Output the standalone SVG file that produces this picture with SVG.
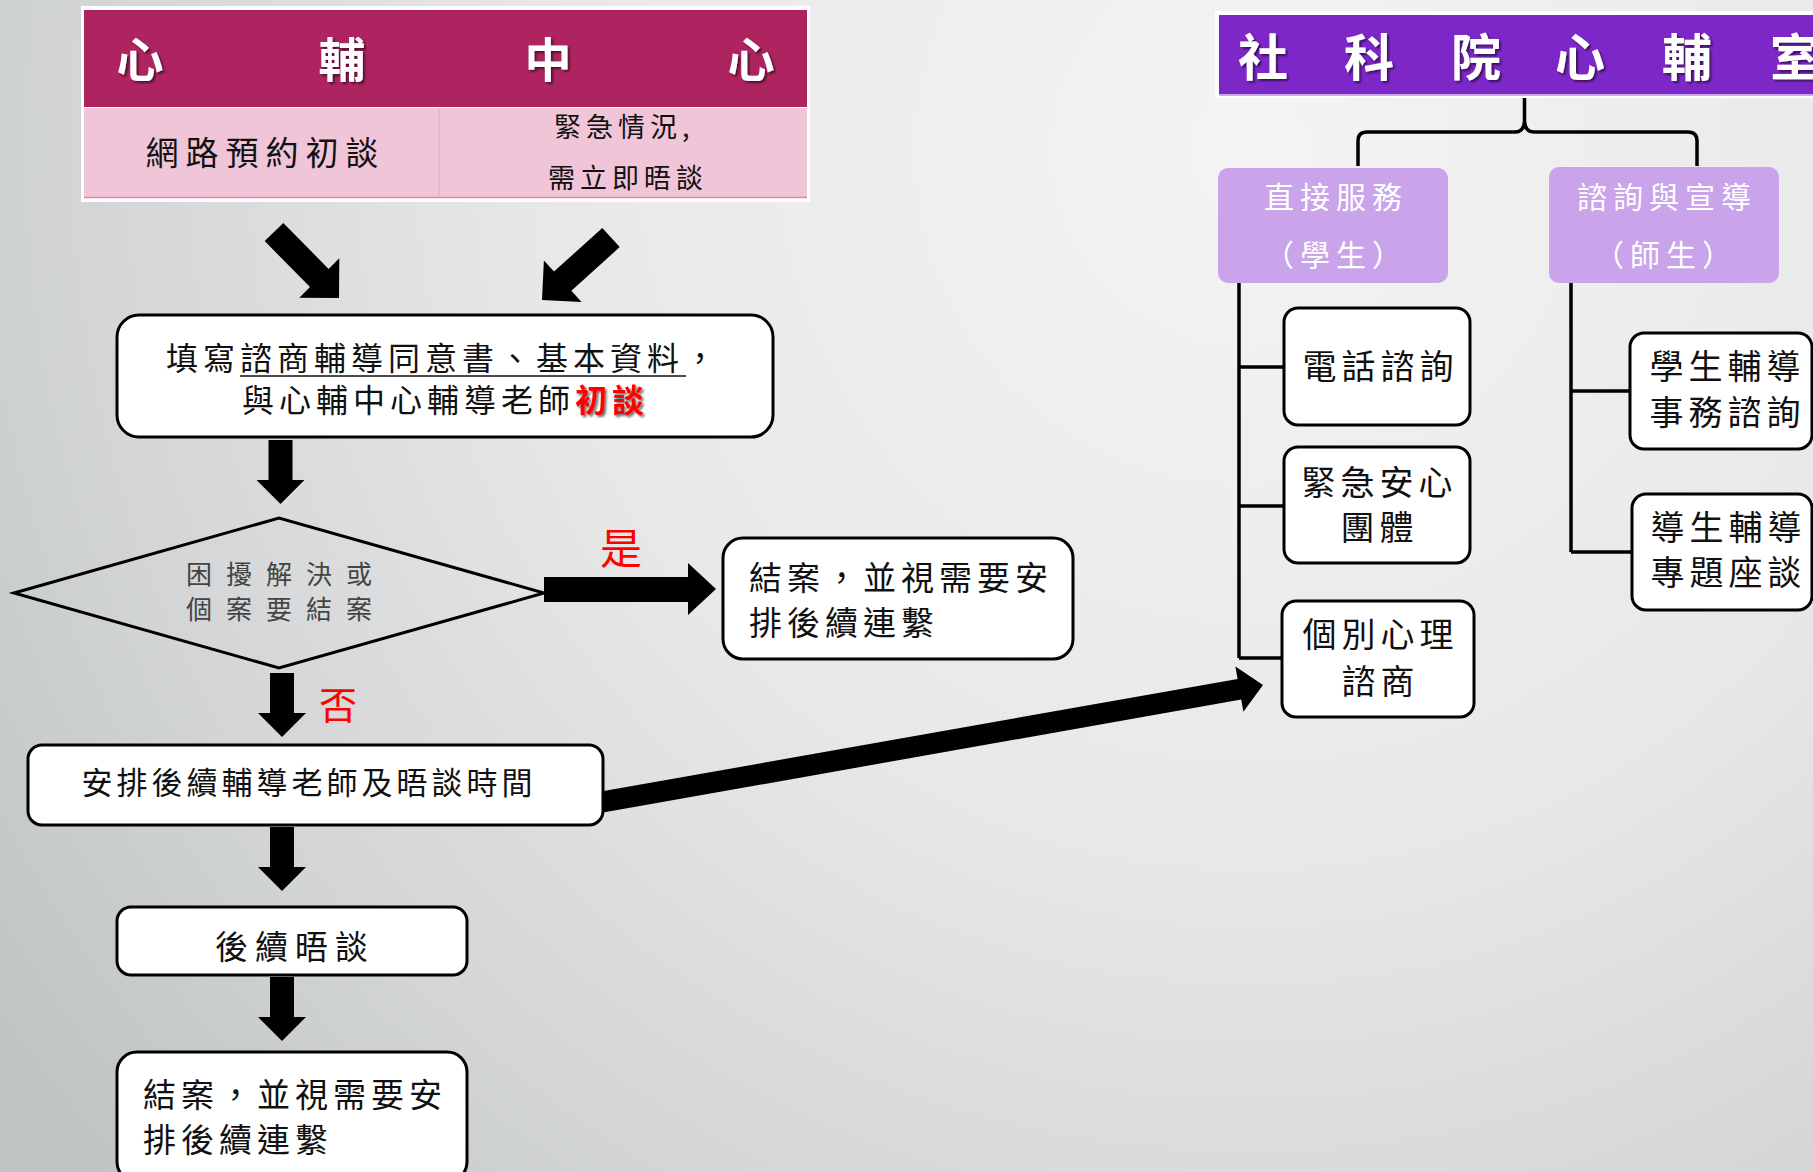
<svg xmlns="http://www.w3.org/2000/svg" width="1813" height="1172" viewBox="0 0 1813 1172">
<defs>
  <radialGradient id="bg" gradientUnits="userSpaceOnUse" cx="1250" cy="150" r="1550">
    <stop offset="0" stop-color="#f4f4f4"/>
    <stop offset="0.45" stop-color="#e8e8e8"/>
    <stop offset="0.75" stop-color="#d3d5d6"/>
    <stop offset="1" stop-color="#bfc3c4"/>
  </radialGradient>
  <filter id="sh" x="-20%" y="-20%" width="140%" height="140%">
    <feDropShadow dx="2" dy="2" stdDeviation="1.2" flood-color="#000" flood-opacity="0.55"/>
  </filter>
  <path id="down" d="M-12,0 H12 V40 H24 L0,64 L-24,40 H-12 Z"/>
</defs>
<style>
  text { font-family: "Noto Sans CJK TC", "Noto Sans CJK SC", sans-serif; }
  .box { fill: #ffffff; stroke: #000; stroke-width: 3; }
  .t { fill: #111; }
  .hdr { fill: #ffffff; font-weight: 700; filter: url(#sh); }
  .lav { fill: #c9a4ea; }
  .lavt { fill: #ffffff; font-size: 30px; letter-spacing: 6px; text-anchor: middle; }
  .arrow { fill: #000; }
  .tree { fill: none; stroke: #000; stroke-width: 3.5; }
  .red { fill: #ff0000; }
  .tb { font-size: 34px; letter-spacing: 5px; text-anchor: middle; }
</style>

<rect x="0" y="0" width="1813" height="1172" fill="url(#bg)"/>

<!-- connectors -->
<g id="connectors">
  <polygon class="arrow" points="264.7,241.1 283.3,222.9 328.6,268.9 339.3,258.3 339,298 299.3,297.7 310,287.1"/>
  <polygon class="arrow" points="602.3,227.9 619.7,247.1 571.4,290.8 581.5,301.9 542,300 543.9,260.5 554,271.6"/>
  <use href="#down" x="280.5" y="440"/>
  <polygon class="arrow" points="544,577 688,577 688,563 716,589 688,615 688,602 544,602"/>
  <use href="#down" x="282" y="673"/>
  <use href="#down" x="282" y="827"/>
  <use href="#down" x="282" y="977"/>
  <polygon class="arrow" points="598,792 1237.6,678.9 1235.4,666.6 1263,685 1243.4,711.8 1241.2,699.5 601.6,812.8"/>
  <path class="tree" d="M1358,166 L1358,141 Q1358,132 1367,132 L1515,132 Q1524,132 1524.5,121 L1524.5,96 M1524.5,121 Q1525,132 1534,132 L1688,132 Q1697,132 1697,141 L1697,166"/>
  <path class="tree" d="M1239,283 V658 M1239,367 H1286 M1239,506 H1286 M1239,658 H1284"/>
  <path class="tree" d="M1571,283 V552 M1571,391 H1632 M1571,552 H1634"/>
  <text class="red" x="621" y="564" font-size="42" text-anchor="middle">是</text>
  <text class="red" x="338" y="719" font-size="38" text-anchor="middle">否</text>
</g>

<!-- 心輔中心 header table -->
<g id="center-header">
  <rect x="81" y="6" width="729" height="196" fill="#ffffff"/>
  <rect x="84" y="10" width="723" height="97" fill="#ae2461"/>
  <rect x="84" y="108" width="723" height="90" fill="#f0c5d8"/>
  <line x1="439" y1="108" x2="439" y2="197" stroke="#e6b3c9" stroke-width="1.5"/>
  <line x1="84" y1="197.5" x2="807" y2="197.5" stroke="#d98aac" stroke-width="1.5"/>
  <g class="hdr" font-size="47" text-anchor="middle">
    <text x="140" y="77">心</text>
    <text x="342" y="77">輔</text>
    <text x="548" y="77">中</text>
    <text x="751" y="77">心</text>
  </g>
  <text class="t" x="265.5" y="165" font-size="33" letter-spacing="7" text-anchor="middle">網路預約初談</text>
  <text class="t" x="554" y="136.5" font-size="27" letter-spacing="5">緊急情況,</text>
  <text class="t" x="548" y="187.5" font-size="27" letter-spacing="5">需立即晤談</text>
</g>

<!-- node: 填寫 -->
<g id="intake">
  <rect class="box" x="117" y="315" width="656" height="122" rx="22"/>
  <text class="t" x="166" y="369.5" font-size="32" letter-spacing="5">填寫諮商輔導同意書、基本資料，</text>
  <line x1="240" y1="376" x2="686" y2="376" stroke="#111" stroke-width="1.6"/>
  <text class="t" x="242" y="412" font-size="32" letter-spacing="5">與心輔中心輔導老師<tspan class="red" font-weight="700" filter="url(#sh)">初談</tspan></text>
</g>

<!-- node: decision -->
<g id="decision">
  <polygon points="14,593 279,518 544,593 279,668" fill="none" stroke="#000" stroke-width="3"/>
  <text x="286" y="584" font-size="26" letter-spacing="14" text-anchor="middle" fill="#444">困擾解決或</text>
  <text x="286" y="619" font-size="26" letter-spacing="14" text-anchor="middle" fill="#444">個案要結案</text>
</g>

<!-- node: close (yes) -->
<g id="close-yes">
  <rect class="box" x="723" y="538" width="350" height="121" rx="20"/>
  <text class="t" x="749" y="590" font-size="33" letter-spacing="5">結案，並視需要安</text>
  <text class="t" x="749" y="635" font-size="33" letter-spacing="5">排後續連繫</text>
</g>

<!-- node: arrange -->
<g id="arrange">
  <rect class="box" x="28" y="745" width="575" height="80" rx="14"/>
  <text class="t" x="309" y="793.5" font-size="31" letter-spacing="4" text-anchor="middle">安排後續輔導老師及晤談時間</text>
</g>

<!-- node: follow-up -->
<g id="followup">
  <rect class="box" x="117" y="907" width="350" height="68" rx="14"/>
  <text class="t" x="295" y="959" font-size="33" letter-spacing="7" text-anchor="middle">後續晤談</text>
</g>

<!-- node: close (final) -->
<g id="close-final">
  <rect class="box" x="117" y="1052" width="350" height="130" rx="20"/>
  <text class="t" x="143" y="1107" font-size="33" letter-spacing="5">結案，並視需要安</text>
  <text class="t" x="143" y="1152" font-size="33" letter-spacing="5">排後續連繫</text>
</g>

<!-- 社科院心輔室 header -->
<g id="college-header">
  <rect x="1215" y="11" width="610" height="87" fill="#ffffff"/>
  <rect x="1219" y="15" width="600" height="79" fill="#7e27c8"/>
  <line x1="1219" y1="95" x2="1813" y2="95" stroke="#b58ae0" stroke-width="1.5"/>
  <g class="hdr" font-size="50" text-anchor="middle">
    <text x="1263" y="76">社</text>
    <text x="1369" y="76">科</text>
    <text x="1476" y="76">院</text>
    <text x="1580" y="76">心</text>
    <text x="1687" y="76">輔</text>
    <text x="1795" y="76">室</text>
  </g>
</g>

<g id="direct-service">
  <rect class="lav" x="1218" y="168" width="230" height="115" rx="10"/>
  <text class="lavt" x="1336" y="208">直接服務</text>
  <text class="lavt" x="1336" y="266">（學生）</text>
</g>

<g id="consult-promo">
  <rect class="lav" x="1549" y="167" width="230" height="116" rx="10"/>
  <text class="lavt" x="1667" y="208">諮詢與宣導</text>
  <text class="lavt" x="1666" y="266">（師生）</text>
</g>

<g id="phone">
  <rect class="box" x="1284" y="308" width="186" height="117" rx="14"/>
  <text class="t tb" x="1380.5" y="379">電話諮詢</text>
</g>

<g id="emergency-group">
  <rect class="box" x="1284" y="447" width="186" height="116" rx="14"/>
  <text class="t tb" x="1379.5" y="495">緊急安心</text>
  <text class="t tb" x="1379.5" y="540">團體</text>
</g>

<g id="individual">
  <rect class="box" x="1282" y="601" width="192" height="116" rx="14"/>
  <text class="t tb" x="1380.5" y="647">個別心理</text>
  <text class="t tb" x="1380.5" y="694">諮商</text>
</g>

<g id="student-affairs">
  <rect class="box" x="1630" y="333" width="182" height="116" rx="14"/>
  <text class="t tb" x="1727.5" y="379">學生輔導</text>
  <text class="t tb" x="1727.5" y="425">事務諮詢</text>
</g>

<g id="mentor-seminar">
  <rect class="box" x="1632" y="494" width="180" height="116" rx="14"/>
  <text class="t tb" x="1728.5" y="540">導生輔導</text>
  <text class="t tb" x="1728.5" y="585">專題座談</text>
</g>
</svg>
